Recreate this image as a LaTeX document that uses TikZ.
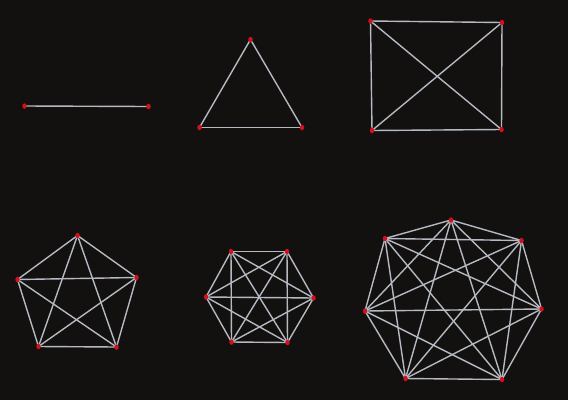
\documentclass[tikz,border=0pt]{standalone}
\usetikzlibrary{shapes.geometric}
\definecolor{bg}{HTML}{121110}
\definecolor{edgecol}{HTML}{B4B9C2}
\definecolor{vertcol}{HTML}{D5101C}
\pgfdeclarelayer{edgelayer}
\pgfsetlayers{edgelayer,main}
\begin{document}
\begin{tikzpicture}[x=1pt,y=-1pt,
  vtx/.style={ellipse,fill=vertcol,inner sep=0pt,minimum width=4.5pt,minimum height=5.5pt},
  edg/.style={draw=edgecol,line width=1.4pt}]
\begin{pgfonlayer}{edgelayer}
\fill[bg] (0,0) rectangle (568,400);
\end{pgfonlayer}
\useasboundingbox (0,0) rectangle (568,400);
% K2
\node[vtx] (a1) at (24.5,106) {};
\node[vtx] (a2) at (148.5,106.5) {};
% K3
\node[vtx] (b1) at (250.5,39.5) {};
\node[vtx] (b2) at (199.5,127.5) {};
\node[vtx] (b3) at (302,127.5) {};
% K4
\node[vtx] (c1) at (370.5,21) {};
\node[vtx] (c2) at (502,22.5) {};
\node[vtx] (c3) at (501.5,129.5) {};
\node[vtx] (c4) at (372,130.5) {};
% K5
\node[vtx] (d1) at (77.5,235.5) {};
\node[vtx] (d2) at (136.5,277.5) {};
\node[vtx] (d3) at (116.5,347) {};
\node[vtx] (d4) at (38.5,346.5) {};
\node[vtx] (d5) at (17.5,279.5) {};
% K6
\node[vtx] (e1) at (231,251.5) {};
\node[vtx] (e2) at (287,251.5) {};
\node[vtx] (e3) at (313.5,298) {};
\node[vtx] (e4) at (287.5,342.5) {};
\node[vtx] (e5) at (231.5,342) {};
\node[vtx] (e6) at (206,297) {};
% K7
\node[vtx] (f1) at (451,220) {};
\node[vtx] (f2) at (521.5,240.5) {};
\node[vtx] (f3) at (541.5,309) {};
\node[vtx] (f4) at (502,379.5) {};
\node[vtx] (f5) at (405.5,378.5) {};
\node[vtx] (f6) at (365,311) {};
\node[vtx] (f7) at (385,238.5) {};
\begin{pgfonlayer}{edgelayer}
\foreach \n/\p in {2/a,3/b,4/c,5/d,6/e,7/f}{
  \foreach \i in {1,...,\n}{
    \foreach \j in {1,...,\n}{
      \ifnum\i<\j
        \draw[edg] (\p\i.center) -- (\p\j.center);
      \fi
    }
  }
}
\end{pgfonlayer}
\end{tikzpicture}
\end{document}
